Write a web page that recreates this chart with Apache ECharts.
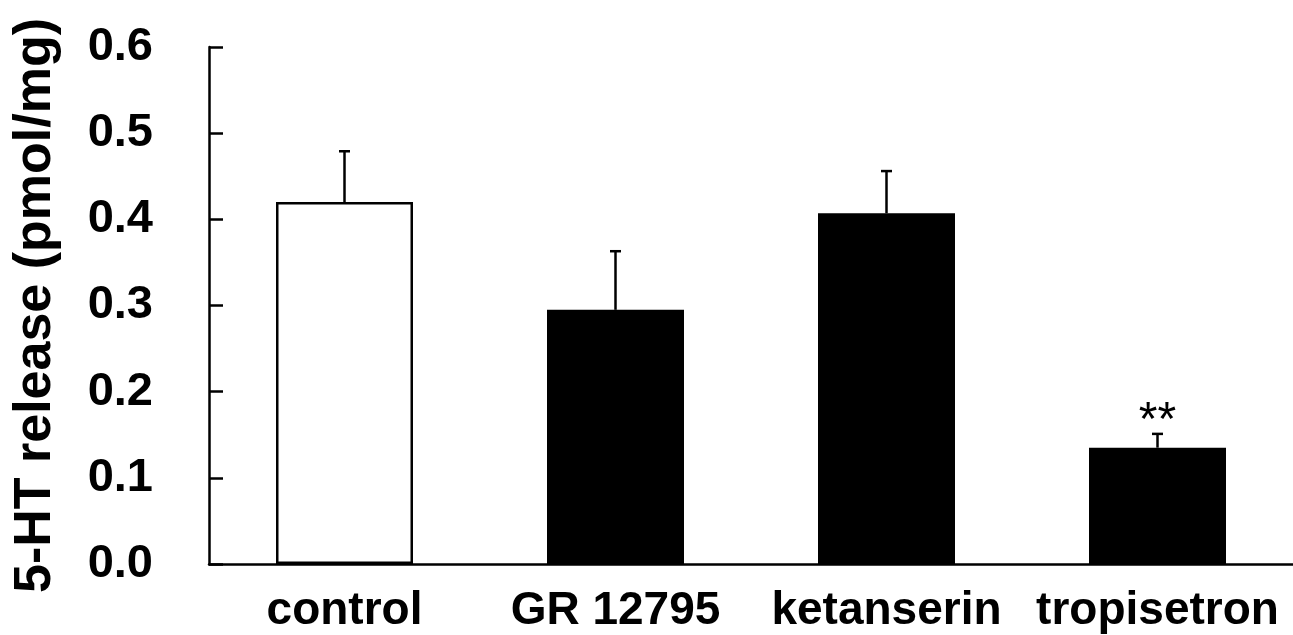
<!DOCTYPE html>
<html><head><meta charset="utf-8">
<script src="https://cdn.jsdelivr.net/npm/echarts@6/dist/echarts.min.js"></script>
<style>html,body{margin:0;padding:0;background:#fff}#c{width:1293px;height:635px}</style>
</head><body><div id="c"></div>
<script>
const categories = ['control', 'GR 12795', 'ketanserin', 'tropisetron'];
const means = [0.420, 0.295, 0.407, 0.135];
const errors = [0.059, 0.068, 0.049, 0.016];
const signif = ['', '', '', '**'];
const fills = ['#ffffff', '#000000', '#000000', '#000000'];
const yTicks = [0, 0.1, 0.2, 0.3, 0.4, 0.5, 0.6];

const font = '"Liberation Sans", Arial, sans-serif';
const chart = echarts.init(document.getElementById('c'));
chart.setOption({
  animation: false,
  grid: { left: 209, right: -8, top: 47, bottom: 71, containLabel: false },
  xAxis: {
    type: 'category', data: categories,
    axisLine: { lineStyle: { color: '#000', width: 2.5 } },
    axisTick: { show: false },
    axisLabel: { color: '#000', fontFamily: font, fontWeight: 'bold', fontSize: 46, margin: 24,
      interval: 0, hideOverlap: false }
  },
  yAxis: {
    type: 'value', min: 0, max: 0.6, interval: 0.1,
    name: '5-HT release (pmol/mg)', nameLocation: 'middle', nameGap: 147, nameRotate: 90,
    nameTextStyle: { color: '#000', fontFamily: font, fontWeight: 'bold', fontSize: 52 },
    splitLine: { show: false },
    axisLine: { show: true, lineStyle: { color: '#000', width: 2.5 } },
    axisTick: { show: true, inside: true, length: 14, lineStyle: { color: '#000', width: 2.5 } },
    axisLabel: { color: '#000', fontFamily: font, fontWeight: 'bold', fontSize: 47, margin: 56,
      formatter: v => v.toFixed(1) }
  },
  series: [
    {
      type: 'bar', barWidth: 137,
      data: means.map((v, i) => ({ value: v, itemStyle: { color: fills[i], borderColor: '#000', borderWidth: 2.5 } })),
      z: 2
    },
    {
      type: 'custom', z: 3,
      data: means.map((v, i) => [i, v, errors[i]]),
      renderItem: function (params, api) {
        const i = api.value(0), m = api.value(1), e = api.value(2);
        const base = api.coord([i, m]);
        const top = api.coord([i, m + e]);
        const cap = 5.5;
        const children = [
          { type: 'line', shape: { x1: base[0], y1: base[1], x2: top[0], y2: top[1] }, style: { stroke: '#000', lineWidth: 2.5 } },
          { type: 'line', shape: { x1: top[0] - cap, y1: top[1], x2: top[0] + cap, y2: top[1] }, style: { stroke: '#000', lineWidth: 2.5 } }
        ];
        const s = signif[params.dataIndex];
        if (s) {
          children.push({ type: 'text', style: { text: s, x: top[0], y: top[1] - 12, align: 'center', verticalAlign: 'middle',
            fill: '#000', font: '48px ' + font } });
        }
        return { type: 'group', children };
      }
    }
  ]
});
</script></body></html>
